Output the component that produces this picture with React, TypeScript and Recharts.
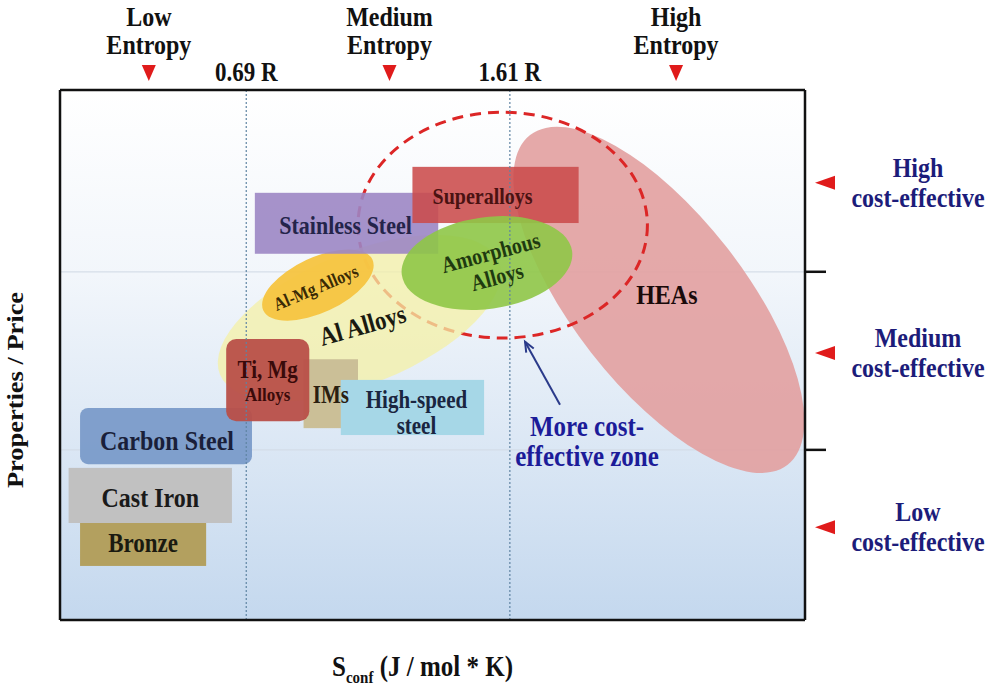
import React from "react";
import {
  ComposedChart,
  XAxis,
  YAxis,
  ReferenceArea,
  ReferenceLine,
  Scatter,
} from "recharts";

// configurational entropy in units of R (x), properties / price in arbitrary units (y)
const entropyLevels = ["Low", "Medium", "High"];
const entropyMarks = [0.35, 1.19, 2.19];
const entropyThresholds = [0.69, 1.61];
const thresholdLabels = ["0.69 R", "1.61 R"];

const costLevels = ["High", "Medium", "Low"];
const costMarks = [82.5, 50.4, 17.5];
const costBounds = [65.7, 32.1];

const materials = [
  "HEAs",
  "Al Alloys",
  "Al-Mg Alloys",
  "Stainless Steel",
  "Superalloys",
  "Amorphous Alloys",
  "Carbon Steel",
  "Cast Iron",
  "Bronze",
  "IMs",
  "High-speed steel",
  "Ti, Mg Alloys",
];
const materialLines = [
  ["HEAs"],
  ["Al Alloys"],
  ["Al-Mg Alloys"],
  ["Stainless Steel"],
  ["Superalloys"],
  ["Amorphous", "Alloys"],
  ["Carbon Steel"],
  ["Cast Iron"],
  ["Bronze"],
  ["IMs"],
  ["High-speed", "steel"],
  ["Ti, Mg", "Alloys"],
];
const entropySpan = [
  [1.4, 2.86],
  [0.56, 1.61],
  [0.73, 1.15],
  [0.72, 1.36],
  [1.27, 1.85],
  [1.23, 1.83],
  [0.11, 0.71],
  [0.07, 0.64],
  [0.11, 0.55],
  [0.89, 1.08],
  [1.02, 1.52],
  [0.62, 0.91],
];
const ratioSpan = [
  [44.2, 76.6],
  [44.5, 69.4],
  [58.0, 68.4],
  [69.1, 80.6],
  [74.9, 85.5],
  [58.7, 76.0],
  [29.4, 40.0],
  [18.3, 28.7],
  [10.2, 18.3],
  [36.2, 49.2],
  [34.9, 45.3],
  [37.5, 53.0],
];

const zoneEntropy = [1.08, 2.09];
const zoneRatio = [53.2, 95.8];
const zoneArrow = [
  [1.785, 40.6],
  [1.663, 52.5],
];
const zoneNote = ["More cost-", "effective zone"];

const X_DOMAIN: [number, number] = [0.04, 2.64];
const Y_DOMAIN: [number, number] = [0, 100];

const SERIF = "'Liberation Serif', 'Times New Roman', serif";
const STRETCH = 1.15;
const RED = "#e01b1b";
const NAVY = "#1c1c7a";

type Style = {
  kind: "rect" | "ellipse";
  fill: string;
  opacity: number;
  rotate?: number;
  radius?: number;
  text: string;
  size: number[];
  gap?: number;
  dx?: number;
  dy?: number;
  textRotate?: number;
};

const styles: Record<string, Style> = {
  HEAs: { kind: "ellipse", fill: "#e2a0a0", opacity: 0.9, rotate: 52, text: "#1a0a0a", size: [24], dx: 8, dy: -5 },
  "Al Alloys": { kind: "ellipse", fill: "#f4f0a6", opacity: 0.75, rotate: -22, text: "#1a1a10", size: [23], dx: 3, dy: 7, textRotate: -16 },
  "Al-Mg Alloys": { kind: "ellipse", fill: "#f5c440", opacity: 0.95, rotate: -25, text: "#3a2a05", size: [16], dx: -2, dy: 3, textRotate: -23 },
  "Stainless Steel": { kind: "rect", fill: "#9c86c4", opacity: 0.9, text: "#24244a", size: [22], dx: -1, dy: 2 },
  Superalloys: { kind: "rect", fill: "#cb4b4b", opacity: 0.88, text: "#4a1212", size: [20], dx: -13, dy: 2 },
  "Amorphous Alloys": { kind: "ellipse", fill: "#8fc647", opacity: 0.9, rotate: -8, text: "#1f3a10", size: [20, 20], gap: 25, dx: 7, dy: 2, textRotate: -15 },
  "Carbon Steel": { kind: "rect", fill: "#7a9bc9", opacity: 0.95, radius: 8, text: "#1a1f3a", size: [24], dx: 1, dy: 5 },
  "Cast Iron": { kind: "rect", fill: "#c1c1c1", opacity: 1, text: "#1a1a1a", size: [24], dy: 2 },
  Bronze: { kind: "rect", fill: "#b3a05f", opacity: 1, text: "#1a1a10", size: [23], dy: -2 },
  IMs: { kind: "rect", fill: "#cbbf97", opacity: 1, text: "#2a2010", size: [21], dy: 1 },
  "High-speed steel": { kind: "rect", fill: "#a6d7e7", opacity: 1, text: "#1a2540", size: [21, 21], gap: 26, dx: 4, dy: 6 },
  "Ti, Mg Alloys": { kind: "rect", fill: "#b84f48", opacity: 0.95, radius: 10, text: "#3a0a0a", size: [21, 17], gap: 25, dy: 2 },
};

// label anchors at the centre of each material's range
const labelPoints = materials.map((m, i) => ({
  name: m,
  idx: i,
  x: (entropySpan[i][0] + entropySpan[i][1]) / 2,
  y: (ratioSpan[i][0] + ratioSpan[i][1]) / 2,
}));

const SText = ({ x, y, size, fill = "#111", rotate = 0, sx = 1, sy = STRETCH, children }: any) => (
  <text
    transform={`translate(${x},${y}) rotate(${rotate}) scale(${sx},${sy})`}
    textAnchor="middle"
    dominantBaseline="central"
    fontFamily={SERIF}
    fontWeight="bold"
    fontSize={size}
    fill={fill}
  >
    {children}
  </text>
);

const Region = (props: any) => {
  const { x, y, width, height, idx } = props;
  const st = styles[materials[idx]];
  const cx = x + width / 2;
  const cy = y + height / 2;
  if (st.kind === "ellipse") {
    return (
      <ellipse
        cx={cx}
        cy={cy}
        rx={width / 2}
        ry={height / 2}
        fill={st.fill}
        fillOpacity={st.opacity}
        transform={`rotate(${st.rotate || 0} ${cx} ${cy})`}
      />
    );
  }
  return <rect x={x} y={y} width={width} height={height} rx={st.radius || 0} fill={st.fill} fillOpacity={st.opacity} />;
};

const RegionLabel = (props: any) => {
  const { cx, cy, payload } = props;
  if (cx == null || cy == null || !payload) return null;
  const idx = payload.idx;
  const st = styles[materials[idx]];
  const lines = materialLines[idx];
  const gap = st.gap || 0;
  return (
    <g transform={`translate(${cx + (st.dx || 0)},${cy + (st.dy || 0)}) rotate(${st.textRotate || 0})`}>
      {lines.map((l, k) => (
        <SText key={l} x={0} y={(k - (lines.length - 1) / 2) * gap} size={st.size[k]} fill={st.text}>
          {l}
        </SText>
      ))}
    </g>
  );
};

const Zone = (props: any) => {
  const { x, y, width, height } = props;
  return (
    <ellipse
      cx={x + width / 2}
      cy={y + height / 2}
      rx={width / 2}
      ry={height / 2}
      fill="none"
      stroke="#dc2626"
      strokeWidth={3}
      strokeDasharray="11 7"
    />
  );
};

const ZoneArrow = (props: any) => {
  const { x1, y1, x2, y2 } = props;
  if (x1 == null) return null;
  const a = Math.atan2(y2 - y1, x2 - x1);
  const h = 11;
  const p1 = [x2 - h * Math.cos(a - 0.4), y2 - h * Math.sin(a - 0.4)];
  const p2 = [x2 - h * Math.cos(a + 0.4), y2 - h * Math.sin(a + 0.4)];
  return (
    <g>
      <line x1={x1} y1={y1} x2={x2} y2={y2} stroke="#2a3a8a" strokeWidth={2} />
      <polyline points={`${p1[0]},${p1[1]} ${x2},${y2} ${p2[0]},${p2[1]}`} fill="none" stroke="#2a3a8a" strokeWidth={2} />
      {zoneNote.map((l, k) => (
        <SText key={l} x={x1 + 27} y={y1 + 22 + k * 30} size={25} fill="#1c1c99">
          {l}
        </SText>
      ))}
    </g>
  );
};

const near = (a: number, b: number) => Math.abs(a - b) < 1e-6;

const EntropyTick = (props: any) => {
  const { x, y, payload } = props;
  const i = entropyMarks.findIndex((m) => near(m, payload.value));
  if (i < 0) return null;
  return (
    <g>
      <SText x={x} y={y - 73} size={24}>
        {entropyLevels[i]}
      </SText>
      <SText x={x} y={y - 45} size={24}>
        Entropy
      </SText>
      <polygon points={`${x - 7},${y - 25} ${x + 7},${y - 25} ${x},${y - 9}`} fill={RED} />
    </g>
  );
};

const CostTick = (props: any) => {
  const { x, y, payload } = props;
  if (costBounds.some((b) => near(b, payload.value))) {
    return <line x1={x} x2={x + 21} y1={y} y2={y} stroke="#111" strokeWidth={2.5} />;
  }
  const i = costMarks.findIndex((m) => near(m, payload.value));
  if (i < 0) return null;
  return (
    <g>
      <polygon points={`${x + 10},${y} ${x + 30},${y - 7} ${x + 30},${y + 7}`} fill={RED} />
      <SText x={x + 113} y={y - 15} size={24} fill={NAVY}>
        {costLevels[i]}
      </SText>
      <SText x={x + 113} y={y + 15} size={24} fill={NAVY}>
        cost-effective
      </SText>
    </g>
  );
};

const ThresholdLabel = (text: string) => (props: any) => {
  const vb = props.viewBox || {};
  return (
    <SText x={vb.x} y={vb.y - 18} size={23}>
      {text}
    </SText>
  );
};

const YTitle = (props: any) => {
  const vb = props.viewBox || {};
  return (
    <SText x={vb.x + 15} y={vb.y + vb.height / 2 + 35} size={23} rotate={-90} sx={STRETCH} sy={1}>
      Properties / Price
    </SText>
  );
};

const XTitle = (props: any) => {
  const vb = props.viewBox || {};
  return (
    <text
      transform={`translate(${vb.x + vb.width / 2 - 10},${vb.y + 56}) scale(1,${STRETCH})`}
      textAnchor="middle"
      fontFamily={SERIF}
      fontWeight="bold"
      fontSize={25}
      fill="#111"
    >
      <tspan>S</tspan>
      <tspan fontSize={15} dy={6}>
        conf
      </tspan>
      <tspan dy={-6}> (J / mol * K)</tspan>
    </text>
  );
};

const frame = { stroke: "#111", strokeWidth: 2.5 };

export default function App() {
  return (
    <div style={{ position: "fixed", left: 0, top: 0, background: "#fff" }}>
      <ComposedChart
        width={1000}
        height={690}
        data={labelPoints}
        margin={{ top: 0, right: 0, bottom: 0, left: 0 }}
      >
        <defs>
          <linearGradient id="bg" x1="0" y1="0" x2="0" y2="1">
            <stop offset="0%" stopColor="#ffffff" />
            <stop offset="35%" stopColor="#f2f6fb" />
            <stop offset="100%" stopColor="#c4d8ee" />
          </linearGradient>
        </defs>
        <XAxis
          xAxisId="top"
          orientation="top"
          dataKey="x"
          type="number"
          domain={X_DOMAIN}
          allowDataOverflow
          height={90}
          ticks={entropyMarks}
          interval={0}
          tickLine={false}
          tickSize={0}
          tickMargin={0}
          tick={<EntropyTick />}
          axisLine={frame}
        />
        <XAxis
          xAxisId="bottom"
          orientation="bottom"
          dataKey="x"
          type="number"
          domain={X_DOMAIN}
          allowDataOverflow
          height={70}
          tick={false}
          tickLine={false}
          axisLine={frame}
          label={{ content: XTitle }}
        />
        <YAxis
          yAxisId="left"
          orientation="left"
          dataKey="y"
          type="number"
          domain={Y_DOMAIN}
          allowDataOverflow
          width={60}
          tick={false}
          tickLine={false}
          axisLine={frame}
          label={{ content: YTitle }}
        />
        <YAxis
          yAxisId="right"
          orientation="right"
          dataKey="y"
          type="number"
          domain={Y_DOMAIN}
          allowDataOverflow
          width={195}
          ticks={[...costMarks, ...costBounds].sort((a, b) => a - b)}
          interval={0}
          tickLine={false}
          tickSize={0}
          tickMargin={0}
          tick={<CostTick />}
          axisLine={frame}
        />
        <ReferenceArea
          xAxisId="bottom"
          yAxisId="left"
          x1={X_DOMAIN[0]}
          x2={X_DOMAIN[1]}
          y1={Y_DOMAIN[0]}
          y2={Y_DOMAIN[1]}
          fill="url(#bg)"
          fillOpacity={1}
          stroke="none"
        />
        {costBounds.map((b) => (
          <ReferenceArea
            key={b}
            xAxisId="bottom"
            yAxisId="left"
            x1={X_DOMAIN[0]}
            x2={X_DOMAIN[1]}
            y1={b - 0.12}
            y2={b + 0.12}
            fill="#d3dce6"
            fillOpacity={0.9}
            stroke="none"
          />
        ))}
        {entropyThresholds.map((t, i) => (
          <ReferenceLine
            key={t}
            xAxisId="bottom"
            yAxisId="left"
            x={t}
            stroke="#5f84a3"
            strokeWidth={1.2}
            strokeDasharray="2 2"
            label={{ content: ThresholdLabel(thresholdLabels[i]) }}
          />
        ))}
        <ReferenceArea
          xAxisId="bottom"
          yAxisId="left"
          x1={entropySpan[0][0]}
          x2={entropySpan[0][1]}
          y1={ratioSpan[0][0]}
          y2={ratioSpan[0][1]}
          ifOverflow="visible"
          shape={(p: any) => <Region {...p} idx={0} />}
        />
        <ReferenceArea
          xAxisId="bottom"
          yAxisId="left"
          x1={zoneEntropy[0]}
          x2={zoneEntropy[1]}
          y1={zoneRatio[0]}
          y2={zoneRatio[1]}
          ifOverflow="visible"
          shape={(p: any) => <Zone {...p} />}
        />
        {materials.slice(1).map((m, j) => {
          const i = j + 1;
          return (
            <ReferenceArea
              key={m}
              xAxisId="bottom"
              yAxisId="left"
              x1={entropySpan[i][0]}
              x2={entropySpan[i][1]}
              y1={ratioSpan[i][0]}
              y2={ratioSpan[i][1]}
              ifOverflow="visible"
              shape={(p: any) => <Region {...p} idx={i} />}
            />
          );
        })}
        <ReferenceLine
          xAxisId="bottom"
          yAxisId="left"
          segment={[
            { x: zoneArrow[0][0], y: zoneArrow[0][1] },
            { x: zoneArrow[1][0], y: zoneArrow[1][1] },
          ]}
          ifOverflow="visible"
          shape={(p: any) => <ZoneArrow {...p} />}
        />
        <Scatter
          xAxisId="bottom"
          yAxisId="left"
          dataKey="y"
          data={labelPoints}
          isAnimationActive={false}
          shape={(p: any) => <RegionLabel {...p} />}
        />
      </ComposedChart>
    </div>
  );
}
